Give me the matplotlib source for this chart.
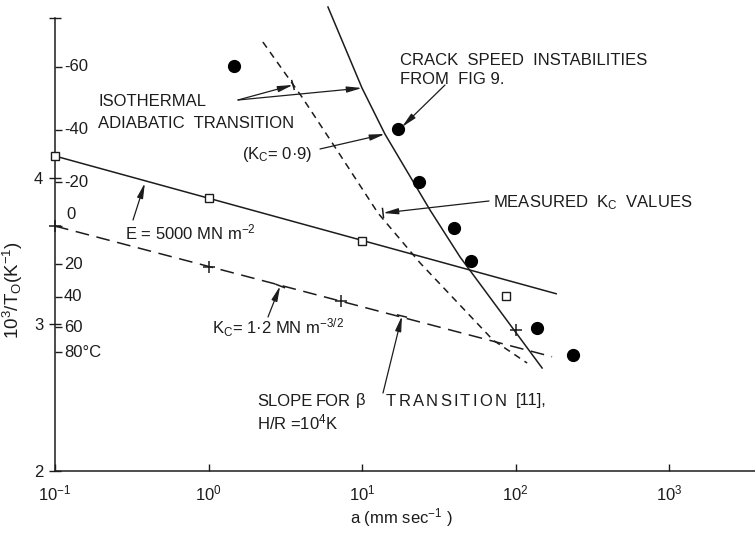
import numpy as np
import matplotlib
matplotlib.use("Agg")
import matplotlib.pyplot as plt
import matplotlib.transforms as mtrans
from matplotlib.lines import Line2D

plt.rcParams['font.family'] = ['Liberation Sans', 'DejaVu Sans']
plt.rcParams['mathtext.default'] = 'regular'
plt.rcParams['mathtext.fontset'] = 'custom'
plt.rcParams['mathtext.rm'] = 'Liberation Sans'

W, H = 755, 534
INK = '#1c1c1c'

# ---------------- data ----------------
# E = 5000 MN m^-2 line (x: crack speed mm/s, y: 10^3/T0)
e_line_x = [0.1, 184]
e_line_y = [4.15, 3.21]
square_x = [0.1, 1.0, 10.0, 87]
square_y = [4.15, 3.865, 3.57, 3.195]

# K_c = 1.2 MN m^-3/2 line
kc_line_x = [0.1, 173]
kc_line_y = [3.672, 2.78]
plus_x = [0.1, 1.0, 7.3, 100]
plus_y = [3.672, 3.39, 3.16, 2.96]

# isothermal-adiabatic transition, K_c = 0.9 (solid curve)
adiab_x = [6.0, 10.0, 14.1, 27.7, 43.5, 149]
adiab_y = [5.167, 4.614, 4.30, 3.782, 3.461, 2.703]

# isothermal-adiabatic transition, measured K_c (short dashes)
iso_x = [2.26, 4.06, 6.87, 12.7, 23.9, 71.3, 119]
iso_y = [4.928, 4.553, 4.19, 3.761, 3.42, 2.894, 2.737]

# crack speed instabilities from Fig 9 (filled circles)
dot_x = [1.47, 17.1, 23.5, 39.8, 51.3, 138, 237]
dot_y = [4.765, 4.334, 3.973, 3.659, 3.433, 2.976, 2.792]

# axes ticks
x_ticks = [0.1, 1, 10, 100, 1000]
x_tick_labels = ['$10^{-1}$', '$10^{0}$', '$10^{1}$', '$10^{2}$', '$10^{3}$']
y_ticks = [2, 3, 4]
y_tick_labels = ['2', '3', '4']
temp_labels = ['-60', '-40', '-20', '0', '20', '40', '60', '80°C']
temp_pos = [4.76, 4.33, 3.97, 3.67, 3.41, 3.19, 2.98, 2.81]

# ---------------- figure ----------------
fig = plt.figure(figsize=(W / 100, H / 100), dpi=100)
ax = fig.add_axes([55 / W, 1 - 471 / H, 700 / W, (471 - 18) / H])
ax.set_xscale('log')
ax.set_xlim(0.1, 10 ** 3.56)
ax.set_ylim(2, 5.092)

for s in ['top', 'right']:
    ax.spines[s].set_visible(False)
for s in ['left', 'bottom']:
    ax.spines[s].set_linewidth(1.1)
    ax.spines[s].set_color(INK)

ax.set_xticks(x_ticks)
ax.set_xticklabels(x_tick_labels)
ax.xaxis.set_minor_locator(matplotlib.ticker.NullLocator())
ax.tick_params(axis='x', direction='in', length=5, width=1, colors=INK,
               labelsize=12, pad=9)

ax.set_yticks(y_ticks + [5.092])
ax.set_yticklabels(y_tick_labels + [''])
ax.set_yticks(temp_pos, minor=True)
ax.tick_params(axis='y', which='major', direction='inout', length=9, width=1,
               colors=INK, labelsize=12, pad=4)
ax.tick_params(axis='y', which='minor', direction='in', length=5, width=1,
               colors=INK, labelleft=False)

blend = mtrans.blended_transform_factory(ax.transAxes, ax.transData)
for lab, pos in zip(temp_labels, temp_pos):
    if lab == '0':
        ax.text(11 / 700, pos + 0.03, lab, transform=blend, ha='left', va='bottom',
                fontsize=12, color=INK)
    else:
        ax.text(9 / 700, pos, lab, transform=blend, ha='left', va='center',
                fontsize=12, color=INK)

fig.text(13 / W, 1 - 290 / H, '$10^3/T_O(K^{-1})$', rotation=90, ha='center',
         va='center', fontsize=13.5, color=INK)
fig.text(401 / W, 1 - 518 / H, 'a (mm sec$^{-1}$ )', ha='center', va='center',
         fontsize=12, color=INK)

# ---------------- lines & markers ----------------
lw = 1.1
ax.plot(e_line_x, e_line_y, '-', color=INK, lw=lw, zorder=2)
ax.plot(kc_line_x, kc_line_y, color=INK, lw=lw, dashes=(9, 5), zorder=2)
ax.plot(adiab_x, adiab_y, '-', color=INK, lw=lw, clip_on=False, zorder=2)
ax.plot(iso_x, iso_y, color=INK, lw=lw, dashes=(4.5, 3.5), zorder=2)

ax.plot(square_x, square_y, 's', ms=5.5, mfc='white', mec=INK, mew=1.0,
        clip_on=False, zorder=4)
ax.plot(plus_x, plus_y, '+', ms=8, mec=INK, mew=1.1, clip_on=False, zorder=4)
ax.plot(dot_x, dot_y, 'o', ms=8.5, color='black', zorder=4)

# ---------------- annotations ----------------
def px(x, y):
    return (x, H - y)

TXT = dict(fontsize=12, color=INK, va='center', ha='left')
def ftext(x, y, s, **kw):
    d = dict(TXT)
    d.update(kw)
    return fig.text(x / W, 1 - y / H, s, **d)

renderer = fig.canvas.get_renderer()
def tracked(x, y, s, track):
    cx = x
    for ch in s:
        t = ftext(cx, y, ch)
        cx += t.get_window_extent(renderer=renderer).width + track

ftext(99, 101, 'ISOTHERMAL')
ftext(98, 123, 'ADIABATIC  TRANSITION')
ftext(400, 61, 'CRACK  SPEED  INSTABILITIES')
ftext(400, 80, 'FROM  FIG 9.')
ftext(242, 155, '(K$_C$= 0·9)')
ftext(493, 203, 'MEASURED  K$_C$  VALUES')
ftext(125, 232, 'E = 5000 MN m$^{-2}$')
ftext(212, 328, 'K$_C$= 1·2 MN m$^{-3/2}$')
ftext(257, 401, 'SLOPE')
ftext(316, 401, 'FOR')
ftext(356, 401, 'β')
tracked(386, 401, 'TRANSITION', 2.2)
ftext(516, 401, '[11],')
ftext(257, 422, 'H/R =10$^4$K')

AP = dict(arrowstyle='-|>,head_length=0.9,head_width=0.18', color=INK, lw=0.9,
          mutation_scale=10, shrinkA=0, shrinkB=0)
# (tip in data coords, tail in figure pixels from top-left, T-bar at tip?)
arrows = [
    ((3.55, 4.635), (238, 100), True),
    ((10.0, 4.614), (238, 100), False),
    ((18.2, 4.348), (445, 85), False),
    ((14.1, 4.30), (320, 149), False),
    ((13.7, 3.761), (489, 201), True),
    ((0.385, 3.966), (133, 220), False),
    ((2.93, 3.263), (268, 317), True),
    ((18.2, 3.058), (383, 393), True),
]
for tip, start, bar in arrows:
    ax.annotate('', xy=tip, xycoords='data', xytext=px(*start),
                textcoords='figure pixels', arrowprops=AP)
    if bar:
        tx, ty = ax.transData.transform(tip)
        sx, sy = px(*start)
        d = np.array([tx - sx, ty - sy])
        d = d / np.hypot(*d)
        n = np.array([-d[1], d[0]]) * 4.5
        fig.add_artist(Line2D([tx - n[0], tx + n[0]], [ty - n[1], ty + n[1]],
                              transform=mtrans.IdentityTransform(), color=INK,
                              lw=1.1))

fig.savefig('out.png', dpi=100)
